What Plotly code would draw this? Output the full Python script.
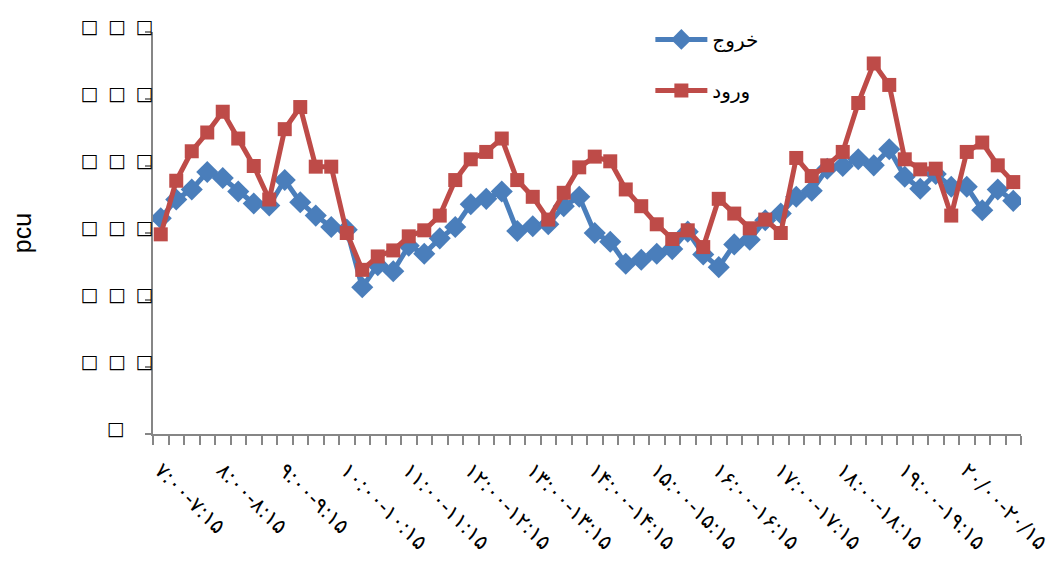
import plotly.graph_objects as go

FA = str.maketrans("0123456789", "۰۱۲۳۴۵۶۷۸۹")

def fa(s):
    return s.translate(FA)

# 56 fifteen-minute intervals from 7:00 to 21:00
starts = [(7 + q // 4, (q % 4) * 15) for q in range(56)]
categories = []
for h, m in starts:
    h2, m2 = (h, m + 15) if m < 45 else (h + 1, 0)
    categories.append(fa(f"{h}:{m:02d}-{h2}:{m2:02d}"))

# shown tick labels (every hour)
hour_labels = [fa(f"{h}:00-{h}:15") for h in range(7, 20)] + [fa("20/00-20/15")]

khoruj = [322, 350, 365, 391, 382, 362, 344, 341, 379, 346,
          326, 309, 305, 219, 252, 243, 281, 269, 292, 309,
          343, 351, 362, 303, 310, 313, 340, 354, 300, 287,
          254, 260, 269, 276, 302, 268, 249, 283, 290, 319,
          329, 354, 363, 396, 400, 410, 401, 425, 384, 366,
          388, 369, 369, 334, 365, 348]

vorud = [298, 378, 422, 450, 481, 441, 400, 350, 455, 488,
         399, 399, 300, 245, 265, 274, 295, 304, 326, 379,
         410, 421, 441, 379, 354, 320, 360, 398, 414, 407,
         365, 340, 313, 291, 304, 279, 351, 329, 307, 320,
         300, 412, 385, 401, 421, 494, 553, 521, 410, 395,
         396, 326, 421, 435, 401, 376]

y_ticks = [0, 100, 200, 300, 400, 500, 600]
y_ticktext = ["□\u2003\u2009\u00a0"] + ["□\u2002□\u2002□"] * 6

ticktext = []
hi = 0
for i, c in enumerate(categories):
    if i % 4 == 0:
        ticktext.append(hour_labels[hi])
        hi += 1
    else:
        ticktext.append("")

fig = go.Figure()
fig.add_trace(go.Scatter(
    x=categories, y=khoruj, name="خروج", mode="lines+markers",
    line=dict(color="#4A7EBB", width=5),
    marker=dict(symbol="diamond", size=17, color="#4A7EBB"),
    legendgroup="a"))
fig.add_trace(go.Scatter(
    x=categories, y=vorud, name="ورود", mode="lines+markers",
    line=dict(color="#BE4B48", width=5),
    marker=dict(symbol="square", size=14, color="#BE4B48"),
    legendgroup="b"))

fig.update_layout(
    width=1055, height=555,
    margin=dict(l=145, r=42, t=18, b=129),
    paper_bgcolor="white", plot_bgcolor="white",
    font=dict(family="DejaVu Sans", color="black"),
    showlegend=True,
    legend=dict(x=0.573, y=1.03, xanchor="left", yanchor="top",
                font=dict(size=20, family="DejaVu Sans"),
                tracegroupgap=22, itemwidth=52,
                bgcolor="rgba(0,0,0,0)"),
    xaxis=dict(
        type="category", tickmode="array", tickvals=categories, ticktext=ticktext,
        tickson="boundaries", ticks="outside", ticklen=9, tickcolor="#868686",
        tickwidth=1.5, showline=True, linecolor="#868686", linewidth=1.5,
        showgrid=False, tickangle=45, tickfont=dict(size=21, family="DejaVu Sans"),
        ticklabelstandoff=14, automargin=False,
        range=[-0.5, 55.5]),
    yaxis=dict(
        range=[0, 600], tickmode="array", tickvals=y_ticks, ticktext=y_ticktext,
        ticks="outside", ticklen=6, tickcolor="#868686", tickwidth=1.5,
        showline=True, linecolor="#868686", linewidth=1.5, showgrid=False,
        zeroline=False, tickfont=dict(size=19, family="DejaVu Sans"),
        ticklabelstandoff=-12, ticklabelshift=-6, automargin=False,
        title=dict(text="pcu", font=dict(size=25, family="Liberation Sans"), standoff=60)),
)

fig.write_html("out.html")
